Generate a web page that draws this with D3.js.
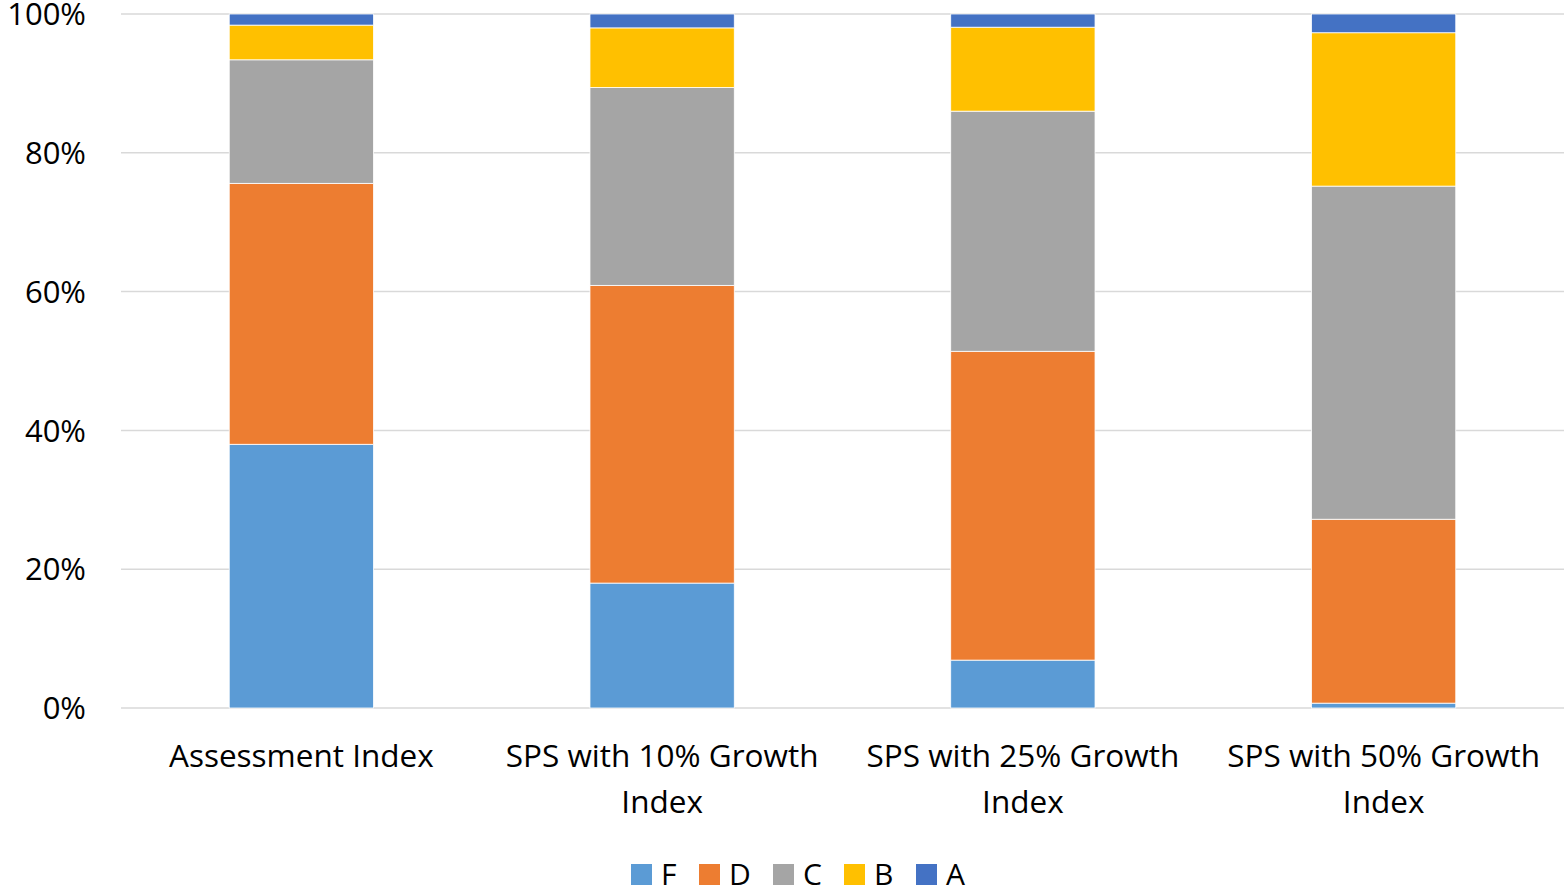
<!DOCTYPE html>
<html>
<head>
  <meta charset='utf-8'>
  <title>Grade distribution</title>
  <script src="https://cdn.jsdelivr.net/npm/d3@7"></script>
  <style>
    body { margin: 0; background: #fff; }
    text { font-family: 'Open Sans', 'Noto Sans', sans-serif; fill: #000; }
  </style>
</head>
<body>
<svg id="chart" width="1564" height="890"></svg>
<script>
  // categories (two-line labels) and series in stacking order (bottom -> top)
  let categories = ['Assessment Index', 'SPS with 10% Growth Index', 'SPS with 25% Growth Index', 'SPS with 50% Growth Index'];
  let catLines = [['Assessment Index'], ['SPS with 10% Growth', 'Index'], ['SPS with 25% Growth', 'Index'], ['SPS with 50% Growth', 'Index']];
  let grades = ['F', 'D', 'C', 'B', 'A'];
  let colors = ['#5b9bd5', '#ed7d31', '#a5a5a5', '#ffc000', '#4472c4'];

  // percentages per grade, one value per category
  let F = [38.0, 18.0, 6.9, 0.7];
  let D = [37.6, 42.9, 44.5, 26.5];
  let C = [17.8, 28.5, 34.6, 48.0];
  let B = [5.0, 8.6, 12.1, 22.1];
  let A = [1.6, 2.0, 1.9, 2.7];
  let yTicks = [0, 20, 40, 60, 80, 100];

  let series = [F, D, C, B, A];
  let rows = categories.map((c, i) => {
    let r = {cat: c};
    grades.forEach((g, j) => r[g] = series[j][i]);
    return r;
  });
  let stacked = d3.stack().keys(grades).offset(d3.stackOffsetExpand)(rows);

  let svg = d3.select('#chart');
  let plotLeft = 121, plotRight = 1564, plotTop = 14, plotBottom = 708;

  let x = d3.scaleBand().domain(categories).range([plotLeft, plotRight]).paddingInner(0.6).paddingOuter(0.3);
  let y = d3.scaleLinear().domain([0, 1]).range([plotBottom, plotTop]);

  // gridlines
  svg.append('g')
    .selectAll('line')
    .data(yTicks)
    .join('line')
      .attr('x1', plotLeft).attr('x2', plotRight)
      .attr('y1', d => y(d / 100)).attr('y2', d => y(d / 100))
      .attr('stroke', '#d9d9d9').attr('stroke-width', 1.5);

  // y labels
  svg.append('g')
    .selectAll('text')
    .data(yTicks)
    .join('text')
      .attr('x', 86)
      .attr('y', d => y(d / 100))
      .attr('dy', '0.36em')
      .attr('text-anchor', 'end')
      .attr('font-size', '31px')
      .text(d => d + '%');

  // bars
  svg.append('g')
    .selectAll('g')
    .data(stacked)
    .join('g')
      .attr('fill', (d, i) => colors[i])
    .selectAll('rect')
    .data(d => d)
    .join('rect')
      .attr('x', d => x(d.data.cat))
      .attr('width', x.bandwidth())
      .attr('y', d => y(d[1]))
      .attr('height', d => y(d[0]) - y(d[1]))
      .attr('stroke', '#fff')
      .attr('stroke-width', 0.8);

  // category labels
  let xl = svg.append('g');
  categories.forEach((c, i) => {
    let t = xl.append('text')
      .attr('x', x(c) + x.bandwidth() / 2)
      .attr('y', 767)
      .attr('text-anchor', 'middle')
      .attr('font-size', '31.5px');
    catLines[i].forEach((ln, k) => {
      t.append('tspan')
        .attr('x', x(c) + x.bandwidth() / 2)
        .attr('dy', k === 0 ? 0 : 46)
        .text(ln);
    });
  });

  // legend
  let legX = [631, 699, 773, 844, 916];
  let leg = svg.append('g');
  grades.forEach((g, i) => {
    leg.append('rect')
      .attr('x', legX[i]).attr('y', 864)
      .attr('width', 21).attr('height', 21)
      .attr('fill', colors[i]);
    leg.append('text')
      .attr('x', legX[i] + 30).attr('y', 885)
      .attr('font-size', '30px')
      .text(g);
  });
</script>
</body>
</html>
